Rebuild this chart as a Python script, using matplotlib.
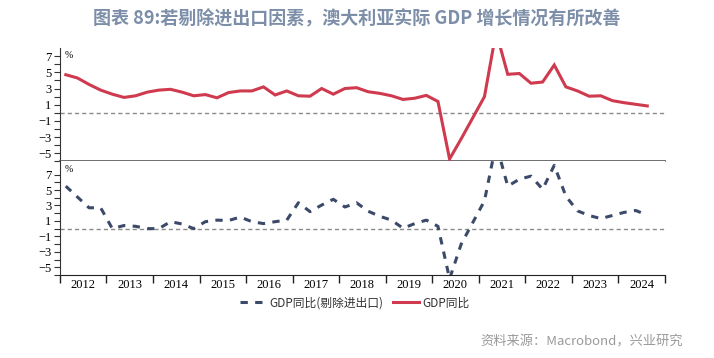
#!/usr/bin/env python
# coding: utf-8

import matplotlib

matplotlib.use("Agg")
import matplotlib.pyplot as plt
import numpy as np
import pandas as pd
from matplotlib.lines import Line2D
from matplotlib.ticker import FixedLocator, NullFormatter, FixedFormatter

# Constants
CJK_FONT = ["Noto Sans CJK SC", "DejaVu Sans"]
SERIF_FONT = "Liberation Serif"
RED = "#cf3a4f"
NAVY = "#3c4a69"
TITLE_COLOR = "#7d8ea8"

TITLE = "图表 89:若剔除进出口因素，澳大利亚实际 GDP 增长情况有所改善"
SOURCE = "资料来源：Macrobond，兴业研究"
LABEL_EX = "GDP同比(剔除进出口)"
LABEL_GDP = "GDP同比"

# Quarterly data, 2012Q1 - 2024Q3
QUARTERS = pd.period_range("2012Q1", "2024Q3", freq="Q")

gdp_yoy = [
    4.7, 4.3, 3.5, 2.8, 2.3, 1.9, 2.1, 2.55, 2.8, 2.9, 2.55, 2.1, 2.25,
    1.85, 2.5, 2.7, 2.7, 3.2, 2.2, 2.7, 2.1, 2.05, 3.0, 2.3, 3.0, 3.1,
    2.6, 2.4, 2.1, 1.65, 1.8, 2.15, 1.4, -5.7, -3.2, -0.6, 2.0, 10.0,
    4.75, 4.85, 3.65, 3.8, 5.9, 3.2, 2.7, 2.05, 2.1, 1.5, 1.25, 1.05, 0.85,
]

gdp_ex_trade = [
    5.5, 4.1, 2.7, 2.7, 0.0, 0.4, 0.3, 0.0, 0.0, 0.9, 0.6, 0.0, 0.9,
    1.1, 1.05, 1.5, 0.9, 0.65, 0.9, 1.1, 3.35, 2.2, 3.05, 3.8, 2.8, 3.35,
    2.25, 1.6, 1.1, 0.05, 0.65, 1.1, 0.3, -6.5, -2.0, 0.8, 3.6, 11.0,
    5.5, 6.4, 6.8, 5.1, 8.2, 4.2, 2.3, 1.7, 1.3, 1.7, 2.1, 2.35, 1.75,
]

years = list(range(2012, 2025))
y_ticks = [7, 5, 3, 1, -1, -3, -5]


def to_year_frac(periods: pd.PeriodIndex) -> np.ndarray:
    # centre each quarter inside its year
    return periods.year + (periods.quarter - 0.5) / 4.0


def style_panel(ax, ylim):
    ax.set_xlim(years[0], years[-1] + 1)
    ax.set_ylim(*ylim)
    ax.spines["top"].set_visible(False)
    ax.spines["right"].set_visible(False)
    ax.spines["left"].set_color("#333333")
    ax.yaxis.set_major_locator(FixedLocator(y_ticks))
    ax.yaxis.set_minor_locator(FixedLocator([6, 4, 2, 0, -2, -4, -6]))
    ax.tick_params(axis="y", which="both", length=4, width=0.8,
                   colors="#333333", labelsize=9, pad=2)
    for lab in ax.get_yticklabels():
        lab.set_fontfamily(SERIF_FONT)
        lab.set_color("black")
    ax.axhline(0, color="#8a8a8a", lw=1.0, ls=(0, (3, 2.2)), zorder=1)
    ax.text(0.008, 0.93, "%", transform=ax.transAxes, fontsize=7,
            family=SERIF_FONT, va="center", ha="left")


def plot_chart(out_path: str = "out.png") -> None:
    x = to_year_frac(QUARTERS)

    fig = plt.figure(figsize=(7.14, 3.58), dpi=100)
    gs = fig.add_gridspec(2, 1, left=0.084, right=0.931, top=0.866,
                          bottom=0.232, hspace=0.0)
    ax1 = fig.add_subplot(gs[0])
    ax2 = fig.add_subplot(gs[1], sharex=ax1)

    # Top: headline GDP yoy
    ax1.plot(x, gdp_yoy, color=RED, lw=2.2, solid_joinstyle="miter", zorder=3)
    style_panel(ax1, (-6, 8))
    ax1.spines["bottom"].set_color("#555555")
    ax1.spines["bottom"].set_linewidth(1.2)
    ax1.tick_params(axis="x", which="both", length=0, labelbottom=False)

    # Bottom: GDP yoy excl. net exports
    ax2.plot(x, gdp_ex_trade, color=NAVY, lw=2.2, ls=(0, (2.4, 2.4)),
             zorder=3)
    style_panel(ax2, (-6, 8.7))
    ax2.spines["bottom"].set_color("#222222")

    ax2.xaxis.set_major_locator(FixedLocator(years + [years[-1] + 1]))
    ax2.xaxis.set_major_formatter(NullFormatter())
    ax2.xaxis.set_minor_locator(FixedLocator([yr + 0.5 for yr in years]))
    ax2.xaxis.set_minor_formatter(FixedFormatter([str(yr) for yr in years]))
    ax2.tick_params(axis="x", which="major", length=6, width=1.0,
                    color="#222222", direction="out")
    ax2.tick_params(axis="x", which="minor", length=0, labelsize=9, pad=3)
    for lab in ax2.xaxis.get_minorticklabels():
        lab.set_fontfamily(SERIF_FONT)

    # Title and source
    fig.text(0.5, 0.948, TITLE, ha="center", va="center", fontsize=13,
             family=CJK_FONT, color=TITLE_COLOR, fontweight="bold")
    fig.text(0.956, 0.045, SOURCE, ha="right", va="center", fontsize=9.5,
             family=CJK_FONT, color="#9a9a9a")

    # Legend
    handles = [
        Line2D([], [], color=NAVY, lw=2.2, ls=(0, (2.4, 2.4))),
        Line2D([], [], color=RED, lw=2.2),
    ]
    fig.legend(handles, [LABEL_EX, LABEL_GDP], loc="center",
               bbox_to_anchor=(0.497, 0.154), ncol=2, frameon=False,
               prop={"family": CJK_FONT, "size": 8.5},
               handlelength=2.2, handletextpad=0.3, columnspacing=0.8,
               labelcolor="#333333")

    fig.savefig(out_path, dpi=100)
    plt.close(fig)


def main() -> None:
    plot_chart("out.png")


if __name__ == "__main__":
    main()
